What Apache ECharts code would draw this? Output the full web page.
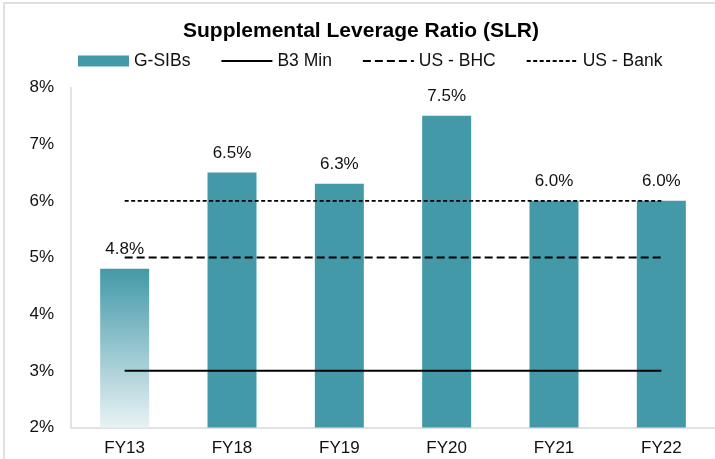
<!DOCTYPE html>
<html>
<head>
<meta charset="utf-8">
<title>Supplemental Leverage Ratio (SLR)</title>
<script src="https://cdn.jsdelivr.net/npm/echarts@6/dist/echarts.min.js"></script>
<style>
  html, body { margin: 0; padding: 0; background: #ffffff; }
  #chart { width: 715px; height: 459px; }
</style>
</head>
<body>
<div id="chart"></div>
<script>
// Fiscal years shown on the category axis
const years = ['FY13', 'FY18', 'FY19', 'FY20', 'FY21', 'FY22'];
// G-SIB average supplemental leverage ratio (%)
const gsibs = [4.8, 6.5, 6.3, 7.5, 6.0, 6.0];
// Regulatory reference levels (%)
const b3Min = [3, 3, 3, 3, 3, 3];
const usBhc = [5, 5, 5, 5, 5, 5];
const usBank = [6, 6, 6, 6, 6, 6];
// Y axis range and step (%)
const yMin = 2, yMax = 8, yStep = 1;

const FONT = "'Liberation Sans', Arial, Helvetica, sans-serif";
const TEAL = '#4399A8';

const chart = echarts.init(document.getElementById('chart'), null, { renderer: 'canvas' });

// The earliest year is shown with a fading fill
const barData = gsibs.map(function (v, i) {
  if (i === 0) {
    return {
      value: v,
      itemStyle: {
        color: new echarts.graphic.LinearGradient(0, 0, 0, 1, [
          { offset: 0, color: TEAL },
          { offset: 1, color: '#E8F2F4' }
        ])
      }
    };
  }
  return v;
});

function refLine(name, data, type, width) {
  return {
    name: name,
    type: 'line',
    data: data,
    symbol: 'none',
    silent: true,
    z: 5,
    lineStyle: { color: '#000000', width: width, type: type },
    itemStyle: { color: '#000000' }
  };
}

// Legend entries for the reference lines show only the stroke, no marker
function lineLegend(name) {
  return { name: name, itemStyle: { opacity: 0 } };
}

chart.setOption({
  animation: false,
  backgroundColor: '#ffffff',
  textStyle: { fontFamily: FONT },
  graphic: [{
    type: 'rect',
    shape: { x: 4, y: 3, width: 800, height: 520 },
    style: { fill: 'none', stroke: '#D6D6D6', lineWidth: 1.5 },
    silent: true,
    z: -10
  }],
  title: {
    text: 'Supplemental Leverage Ratio (SLR)',
    left: 183,
    top: 21,
    padding: 0,
    textStyle: { fontFamily: FONT, fontSize: 21, fontWeight: 'bold', color: '#000000' }
  },
  legend: {
    left: 78,
    top: 52,
    padding: 0,
    itemWidth: 51,
    itemHeight: 11,
    itemGap: 30,
    textStyle: { fontFamily: FONT, fontSize: 17.5, color: '#111111' },
    data: [
      { name: 'G-SIBs', icon: 'rect' },
      lineLegend('B3 Min'),
      lineLegend('US - BHC'),
      lineLegend('US - Bank')
    ]
  },
  grid: { left: 71, top: 87.5, width: 652, height: 340, containLabel: false },
  xAxis: {
    type: 'category',
    data: years,
    axisLine: { show: true, lineStyle: { color: '#D9D9D9', width: 1.5 } },
    axisTick: { show: false },
    axisLabel: { fontFamily: FONT, fontSize: 17, color: '#111111', margin: 12 },
    splitLine: { show: false }
  },
  yAxis: {
    type: 'value',
    min: yMin,
    max: yMax,
    interval: yStep,
    axisLine: { show: true, lineStyle: { color: '#D9D9D9', width: 1.5 } },
    axisTick: { show: false },
    splitLine: { show: false },
    axisLabel: {
      fontFamily: FONT, fontSize: 17, color: '#111111', margin: 17,
      formatter: function (v) { return v + '%'; }
    }
  },
  series: [
    {
      name: 'G-SIBs',
      type: 'bar',
      data: barData,
      barWidth: 49,
      itemStyle: { color: TEAL },
      label: {
        show: true,
        position: 'top',
        distance: 11,
        fontFamily: FONT,
        fontSize: 17,
        color: '#111111',
        formatter: function (p) { return p.value.toFixed(1) + '%'; }
      }
    },
    refLine('B3 Min', b3Min, 'solid', 2),
    refLine('US - BHC', usBhc, [8, 4], 2),
    refLine('US - Bank', usBank, [4, 2.5], 1.75)
  ]
});
</script>
</body>
</html>
